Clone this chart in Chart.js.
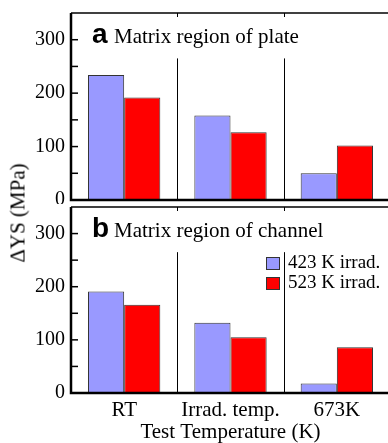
<!DOCTYPE html>
<html>
<head>
<meta charset="utf-8">
<script src="https://cdn.jsdelivr.net/npm/chart.js@4.4.0/dist/chart.umd.min.js"></script>
<style>
  html, body { margin: 0; padding: 0; background: #fff; }
  #wrap { position: relative; width: 388px; height: 443px; overflow: hidden; }
  canvas { position: absolute; left: 0; }
  #ylab {
    position: absolute; left: 18px; top: 213px;
    transform: translate(-50%, -50%) rotate(-90deg);
    font: 21px "Liberation Serif", serif; white-space: nowrap; color: #000;
  }
</style>
</head>
<body>
<div id="wrap">
  <canvas id="chartA" width="392" height="204" style="top:0"></canvas>
  <canvas id="chartB" width="392" height="238" style="top:205px"></canvas>
  <div id="ylab">ΔYS (MPa)</div>
</div>
<script>
// data
const categories = ['RT', 'Irrad. temp.', '673K'];
const seriesLabels = ['423 K irrad.', '523 K irrad.'];
const plate423 = [234, 158, 50];
const plate523 = [192, 127, 102];
const channel423 = [191, 132, 18];
const channel523 = [166, 105, 86];
const yTicks = [0, 100, 200, 300];
const yMinorTicks = [50, 150, 250];
const yMax = 350;
const separatorTop = 265;

const blue = '#9999ff';
const red = '#ff0000';
const serif = '"Liberation Serif", "Times New Roman", serif';

Chart.defaults.color = '#000';
Chart.defaults.font.family = serif;

// frame, inward ticks, category separators and panel caption
const framePlugin = {
  id: 'frame',
  afterDraw(chart, args, opts) {
    const { ctx, chartArea: a, scales: { x, y } } = chart;
    ctx.save();
    ctx.strokeStyle = '#000';

    // separators between categories
    ctx.lineWidth = 1;
    for (let i = 1; i < categories.length; i++) {
      const px = Math.round((x.getPixelForValue(i - 1) + x.getPixelForValue(i)) / 2) + 0.5;
      ctx.beginPath();
      ctx.moveTo(px, y.getPixelForValue(0));
      ctx.lineTo(px, y.getPixelForValue(separatorTop));
      ctx.moveTo(px, a.top);
      ctx.lineTo(px, a.top + 4);
      ctx.stroke();
    }

    // inward ticks on the left axis
    ctx.lineWidth = 1.5;
    yTicks.concat(yMinorTicks).forEach(v => {
      const py = y.getPixelForValue(v);
      ctx.beginPath();
      ctx.moveTo(a.left, py);
      ctx.lineTo(a.left + 7, py);
      ctx.stroke();
    });

    // thin top border
    ctx.lineWidth = 1.5;
    ctx.beginPath();
    ctx.moveTo(a.left, a.top);
    ctx.lineTo(a.right, a.top);
    ctx.stroke();

    // thick left and bottom axes
    ctx.lineWidth = 2.5;
    ctx.beginPath();
    ctx.moveTo(a.left, a.top);
    ctx.lineTo(a.left, a.bottom);
    ctx.lineTo(a.right, a.bottom);
    ctx.stroke();

    // panel caption
    ctx.fillStyle = '#000';
    ctx.textBaseline = 'alphabetic';
    ctx.textAlign = 'left';
    ctx.font = 'bold 28px "Liberation Sans", Arial, sans-serif';
    ctx.fillText(opts.letter, a.left + 21, a.top + 30);
    ctx.font = '21px ' + serif;
    ctx.fillText(opts.caption, a.left + 43, a.top + 30);

    // legend
    if (opts.legend) {
      ctx.font = '19px ' + serif;
      chart.data.datasets.forEach((ds, i) => {
        const top = a.top + 50 + i * 20;
        ctx.fillStyle = ds.backgroundColor;
        ctx.fillRect(266, top, 13, 12);
        ctx.lineWidth = 1;
        ctx.strokeStyle = '#333';
        ctx.strokeRect(266.5, top + 0.5, 13, 12);
        ctx.fillStyle = '#000';
        ctx.fillText(ds.label, 288, top + 11);
      });
    }
    ctx.restore();
  }
};

function makeDatasets(a, b) {
  return [
    { label: seriesLabels[0], data: a, backgroundColor: blue, borderColor: '#333', borderWidth: 1 },
    { label: seriesLabels[1], data: b, backgroundColor: red, borderColor: '#333', borderWidth: 1 }
  ];
}

function yScale() {
  return {
    min: 0,
    max: yMax,
    afterBuildTicks: s => { s.ticks = yTicks.map(v => ({ value: v })); },
    afterFit: s => { s.width = 71; s.paddingTop = 0; s.paddingBottom = 0; },
    grid: { display: false, drawTicks: false },
    border: { display: false },
    ticks: { font: { size: 20, family: serif }, padding: 6, color: '#000' }
  };
}

const common = {
  responsive: false,
  animation: false,
  categoryPercentage: 0.68,
  barPercentage: 1.0,
  plugins: { legend: { display: false }, tooltip: { enabled: false } }
};

// panel a
new Chart(document.getElementById('chartA'), {
  type: 'bar',
  data: { labels: categories, datasets: makeDatasets(plate423, plate523) },
  options: {
    ...common,
    layout: { padding: { top: 13, right: 2, bottom: 4, left: 0 } },
    scales: {
      x: { display: false },
      y: yScale()
    },
    plugins: { ...common.plugins, frame: { letter: 'a', caption: 'Matrix region of plate', legend: false } }
  },
  plugins: [framePlugin]
});

// panel b
new Chart(document.getElementById('chartB'), {
  type: 'bar',
  data: { labels: categories, datasets: makeDatasets(channel423, channel523) },
  options: {
    ...common,
    layout: { padding: { top: 2, right: 2, bottom: 0, left: 0 } },
    scales: {
      x: {
        grid: { display: false, drawTicks: false },
        border: { display: false },
        ticks: { font: { size: 21, family: serif }, padding: 5, color: '#000' },
        title: {
          display: true, text: 'Test Temperature (K)',
          font: { size: 21, family: serif }, padding: { top: 0, bottom: -2 }, color: '#000'
        },
        afterFit: s => { s.height = 50; }
      },
      y: yScale()
    },
    plugins: { ...common.plugins, frame: { letter: 'b', caption: 'Matrix region of channel', legend: true } }
  },
  plugins: [framePlugin]
});
</script>
</body>
</html>
